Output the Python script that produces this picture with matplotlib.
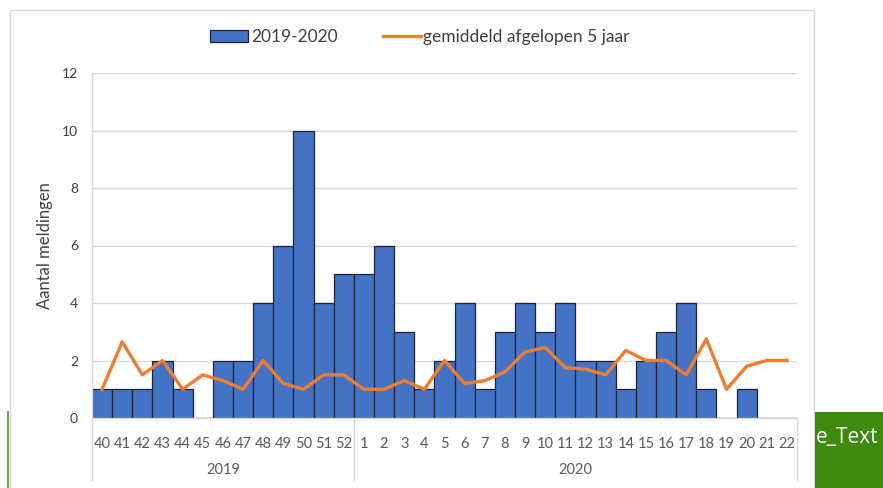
import matplotlib
matplotlib.use("Agg")
import matplotlib.pyplot as plt
from matplotlib.patches import Rectangle
from matplotlib.lines import Line2D

weeks = ["40", "41", "42", "43", "44", "45", "46", "47", "48", "49", "50", "51", "52",
         "1", "2", "3", "4", "5", "6", "7", "8", "9", "10", "11", "12", "13", "14", "15",
         "16", "17", "18", "19", "20", "21", "22"]
years = ["2019", "2020"]
year_counts = [13, 22]
meldingen = [1, 1, 1, 2, 1, 0, 2, 2, 4, 6, 10, 4, 5,
             5, 6, 3, 1, 2, 4, 1, 3, 4, 3, 4, 2, 2, 1, 2, 3, 4, 1, 0, 1, 0, 0]
gemiddeld = [1.0, 2.65, 1.5, 2.0, 1.0, 1.5, 1.3, 1.0, 2.0, 1.2, 1.0, 1.5, 1.5,
             1.0, 1.0, 1.3, 1.0, 2.0, 1.2, 1.3, 1.6, 2.3, 2.45, 1.75, 1.7, 1.5, 2.35, 2.0,
             2.0, 1.5, 2.75, 1.0, 1.8, 2.0, 2.0]

plt.rcParams['font.family'] = ['Lato', 'DejaVu Sans']

W, H = 883, 488
fig = plt.figure(figsize=(W / 100, H / 100), dpi=100)
fig.patch.set_facecolor("white")

def fx(px):
    return px / W

def fy(py):
    return 1 - py / H

# chart border
fig.add_artist(Rectangle((fx(10), fy(495)), fx(814) - fx(10), fy(10) - fy(495),
                         transform=fig.transFigure, fill=False, edgecolor="#D9D9D9", lw=1))

ax = fig.add_axes([fx(92), fy(418), fx(797) - fx(92), fy(73) - fy(418)])
x = list(range(len(weeks)))
ax.bar(x, meldingen, width=1.0, color="#4472C4", edgecolor="#1B2536", linewidth=0.9, zorder=2)
ax.plot(x, gemiddeld, color="#ED7D31", lw=2.4, zorder=3, solid_joinstyle="round")

ax.set_xlim(-0.5, len(weeks) - 0.5)
ax.set_ylim(0, 12)
ax.set_yticks(range(0, 13, 2))
ax.yaxis.grid(True, color="#D9D9D9", lw=1)
ax.set_axisbelow(True)
for s in ["top", "right", "left", "bottom"]:
    ax.spines[s].set_visible(False)
ax.tick_params(axis="y", length=0, labelsize=10, labelcolor="#404040", pad=10)
ax.set_xticks(x)
ax.set_xticklabels(weeks)
ax.tick_params(axis="x", length=0, labelsize=10.5, labelcolor="#595959", pad=14)
ax.set_ylabel("Aantal meldingen", fontsize=12, color="#404040")
ax.yaxis.set_label_coords(-(92 - 53) / 705, 0.5)

# axis line and category separators
trans = ax.get_xaxis_transform()
ax.plot([-0.5, len(weeks) - 0.5], [0, 0], transform=trans, color="#D9D9D9", lw=1, clip_on=False, zorder=4)
ax.plot([-0.5, -0.5], [1, -62 / 345], transform=trans, color="#D9D9D9", lw=1, clip_on=False)
start = -0.5
for yr, n in zip(years, year_counts):
    end = start + n
    ax.plot([end, end], [0, -62 / 345], transform=trans, color="#D9D9D9", lw=1, clip_on=False)
    ax.text((start + end) / 2, -52 / 345, yr, transform=trans, ha="center", va="center",
            fontsize=10.5, color="#595959")
    start = end

# legend
handles = [Rectangle((0, 0), 1, 1, facecolor="#4472C4", edgecolor="#1B2536", lw=0.9),
           Line2D([0], [0], color="#ED7D31", lw=2.4)]
fig.legend(handles, ["2019-2020", "gemiddeld afgelopen 5 jaar"], loc="center",
           bbox_to_anchor=(fx(420), fy(37)), ncol=2, frameon=False, fontsize=12.5,
           labelcolor="#404040", handlelength=2.2, handletextpad=0.15, columnspacing=2.6)

# green overlay artifacts
fig.add_artist(Rectangle((fx(815), 0), 1 - fx(815), fy(412), transform=fig.transFigure,
                         facecolor="#3D8A0E", edgecolor="none"))
fig.text(fx(816), fy(437), "e_Text", color="white", fontsize=15, va="center", ha="left",
         family=["Open Sans", "DejaVu Sans"])
fig.add_artist(Line2D([fx(8), fx(8)], [0, fy(412)], transform=fig.transFigure,
                      color="#6FA84F", lw=1.5))

fig.savefig("out.png", dpi=100)
